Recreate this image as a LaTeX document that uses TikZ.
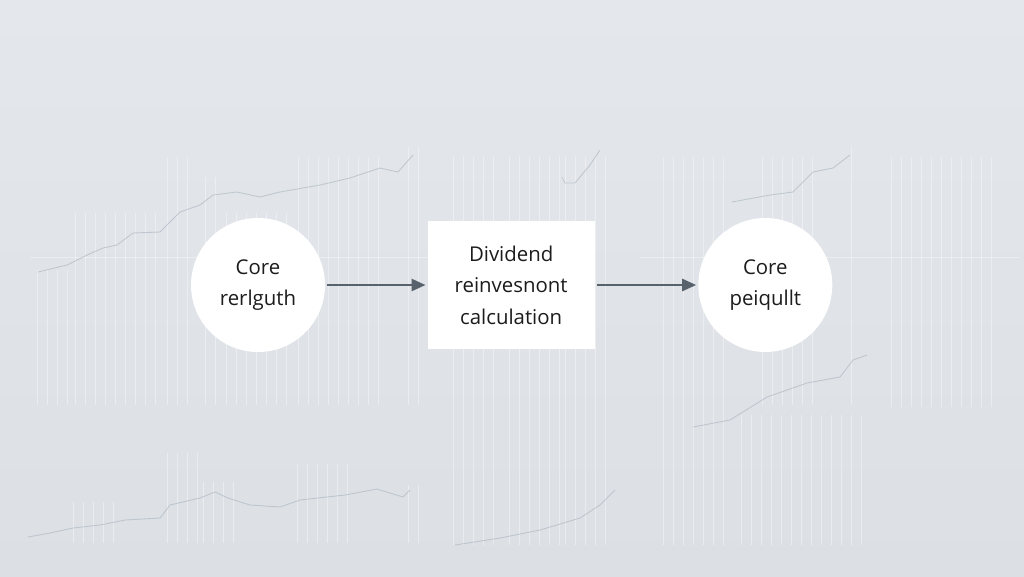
\documentclass[tikz,border=0pt]{standalone}
\usepackage{fontspec}
\setmainfont{Open Sans}
\usetikzlibrary{arrows.meta,positioning}

\definecolor{bgtop}{HTML}{E4E7EB}
\definecolor{bgbottom}{HTML}{DCE0E5}
\definecolor{gridwhite}{HTML}{F7F8FA}
\definecolor{trendgray}{HTML}{A9B3BF}
\definecolor{arrowslate}{HTML}{58626D}
\definecolor{textdark}{HTML}{1C1C1C}

\begin{document}
\begin{tikzpicture}[x=0.02cm,y=-0.02cm,
  every node/.style={font=\fontsize{11.6}{18}\selectfont,text=textdark,align=center},
  corecircle/.style={circle,fill=white,minimum size=2.68cm,inner sep=0pt},
  calcbox/.style={rectangle,fill=white,minimum width=3.34cm,minimum height=2.58cm,inner sep=0pt},
  flowarrow/.style={-{Triangle[length=2.8mm,width=2.4mm]},arrowslate,line width=1.4pt,shorten >=1pt,shorten <=1pt},
  barline/.style={gridwhite,opacity=0.5,line width=0.45pt},
  trendline/.style={trendgray,opacity=0.6,line width=0.5pt,line join=round}]
  \useasboundingbox (0,0) rectangle (1024,576);
  \shade[top color=bgtop,bottom color=bgbottom] (0,0) rectangle (1024,576);

  % faint chart panels behind the flow
  \foreach \xa/\xb/\ytop/\ybot in {37/70/270/405, 75/160/213/405, 167/196/157/405,
      205/218/177/405, 226/290/213/405, 298/382/157/405, 408/426/147/405,
      453/500/156/545, 509/560/156/545, 565/605/156/545, 663/731/157/545,
      762/815/157/405, 851/857/147/405, 891/996/157/407,
      741/870/415/545, 73/122/502/543, 167/200/453/543, 203/238/482/543,
      297/353/464/543, 408/427/485/543} {
    \foreach \x in {\xa,...,\xb} {
      \pgfmathparse{mod(\x-\xa,10)==0}
      \ifnum\pgfmathresult=1
        \draw[barline] (\x,\ytop) -- (\x,\ybot);
      \fi
    }
  }
  \draw[barline] (30,257) -- (430,257);
  \draw[barline] (640,257) -- (1020,257);

  \draw[trendline] (38,272) -- (67,265) -- (87,255) -- (103,248) -- (117,245)
    -- (133,233) -- (160,232) -- (180,212) -- (200,205) -- (213,195) -- (237,192)
    -- (260,197) -- (280,192) -- (320,185) -- (350,178) -- (380,168) -- (398,172)
    -- (413,155);
  \draw[trendline] (562,177) -- (565,183) -- (575,183) -- (590,165) -- (600,150);
  \draw[trendline] (732,202) -- (770,195) -- (793,192) -- (813,172) -- (833,168)
    -- (850,155);
  \draw[trendline] (693,427) -- (730,420) -- (767,397) -- (807,383) -- (840,377)
    -- (853,360) -- (867,355);
  \draw[trendline] (28,537) -- (50,533) -- (73,528) -- (100,525) -- (125,520)
    -- (160,518) -- (170,505) -- (200,498) -- (215,492) -- (228,498) -- (250,505)
    -- (280,507) -- (300,500) -- (345,495) -- (377,489) -- (403,497) -- (410,490);
  \draw[trendline] (455,545) -- (500,538) -- (540,530) -- (580,518) -- (600,505)
    -- (615,490);

  % flow nodes
  \node[corecircle] (coreinput) at (258,285) {Core\\rerlguth};
  \node[calcbox,right=2.04cm of coreinput] (divcalc) {Dividend\\reinvesnont\\calculation};
  \node[corecircle,right=2.06cm of divcalc] (coreoutput) {Core\\peiqullt};

  \draw[flowarrow] (coreinput) -- (divcalc);
  \draw[flowarrow] (divcalc) -- (coreoutput);
\end{tikzpicture}
\end{document}
